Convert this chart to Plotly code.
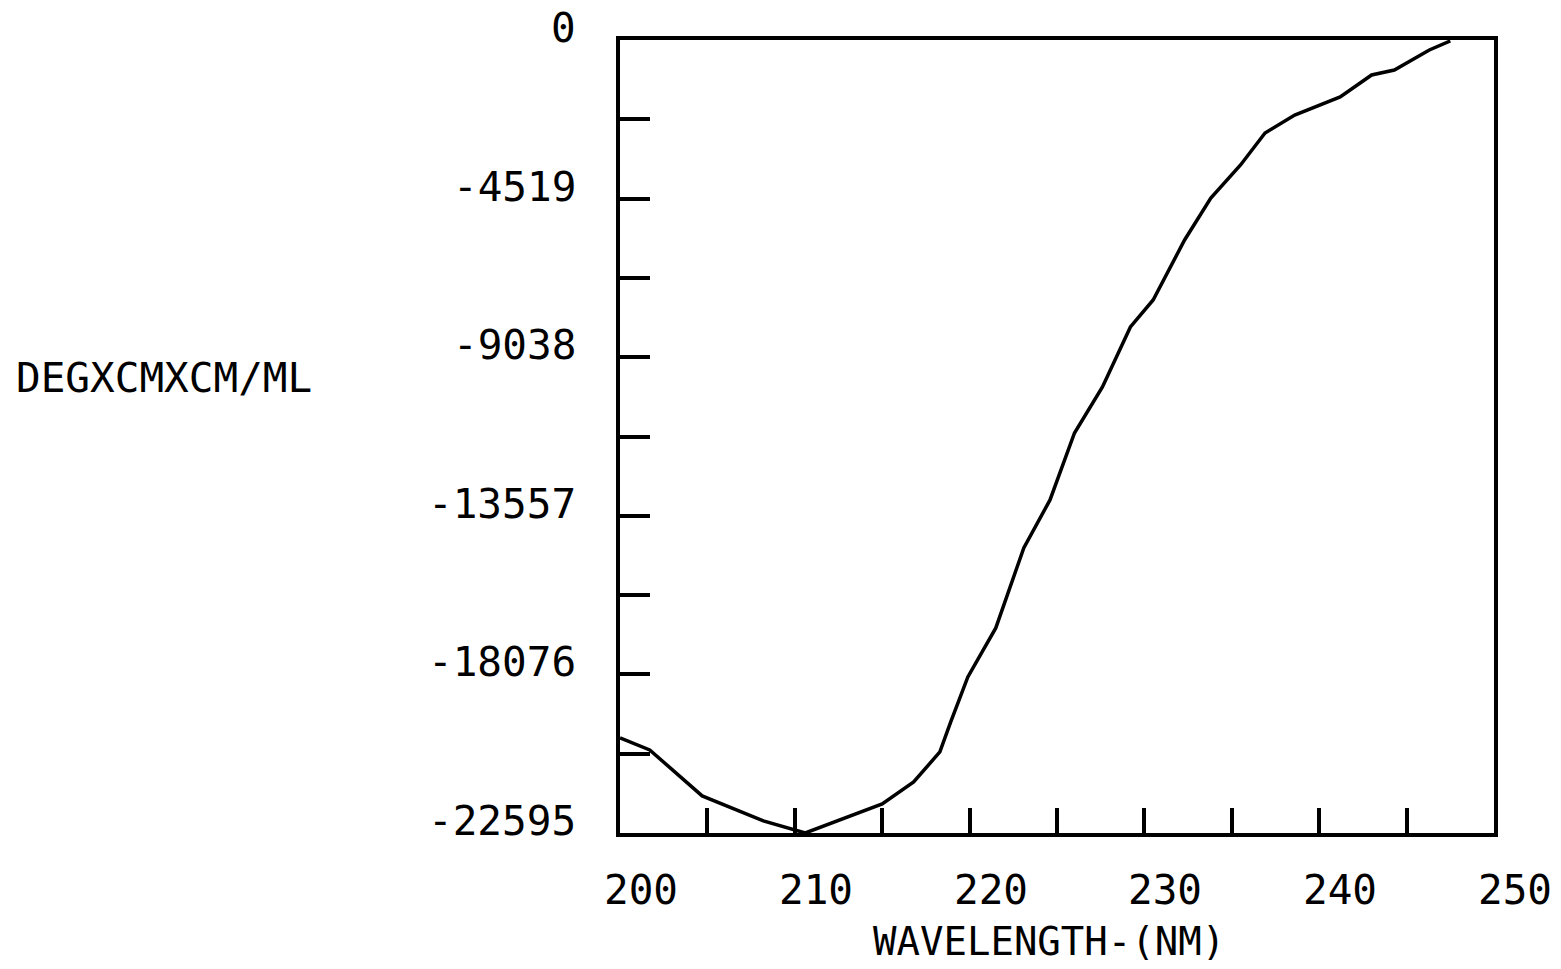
import plotly.graph_objects as go

wavelength = [200.0, 201.7, 204.7, 208.2, 210.6, 215.0, 216.8, 218.3, 218.9, 219.9, 221.5,
              223.1, 224.6, 226.0, 227.6, 229.2, 230.5, 232.3, 233.8, 235.5, 236.9, 238.6,
              241.2, 243.0, 244.3, 246.3, 247.5]
ellipticity = [-19886, -20228, -21538, -22251, -22595, -21766, -21140, -20285, -19459, -18148,
               -16752, -14473, -13105, -11197, -9886, -8177, -7407, -5698, -4501, -3561, -2650,
               -2137, -1624, -997, -855, -285, -28]

y_tick_labels = [0, -4519, -9038, -13557, -18076, -22595]
y_minor_step = 2259.5
x_ticks = [200, 205, 210, 215, 220, 225, 230, 235, 240, 245, 250]
x_tick_labels = [200, 210, 220, 230, 240, 250]

FONT = "DejaVu Sans Mono"
FS = 41

fig = go.Figure()
fig.add_trace(go.Scatter(x=wavelength, y=ellipticity, mode="lines",
                         line=dict(color="black", width=3.5), showlegend=False,
                         cliponaxis=True))

y_ticks = [-y_minor_step * i for i in range(11)]

fig.update_xaxes(range=[200, 250], tickvals=x_ticks, ticks="inside", ticklen=25,
                 tickwidth=3.5, tickcolor="black", showticklabels=False, showgrid=False,
                 zeroline=False, showline=True, linecolor="black", linewidth=3.5, mirror=True)
fig.update_yaxes(range=[-22595, 0], tickvals=y_ticks, ticks="inside", ticklen=30,
                 tickwidth=3.5, tickcolor="black", showticklabels=False, showgrid=False,
                 zeroline=False, showline=True, linecolor="black", linewidth=3.5, mirror=True)

annotations = []
for v in y_tick_labels:
    annotations.append(dict(x=0, xref="paper", y=v, yref="y", text=str(v), showarrow=False,
                            xanchor="right", yanchor="middle", xshift=-42, yshift=12,
                            font=dict(family=FONT, size=FS, color="black")))
for v in x_tick_labels:
    annotations.append(dict(x=v, xref="x", y=0, yref="paper", text=str(v), showarrow=False,
                            xanchor="center", yanchor="middle", xshift=21, yshift=-57,
                            font=dict(family=FONT, size=FS, color="black")))
annotations.append(dict(x=0.491, xref="paper", y=0, yref="paper", text="WAVELENGTH-(NM)",
                        showarrow=False, xanchor="center", yanchor="bottom", yshift=-133,
                        font=dict(family=FONT, size=39, color="black")))
annotations.append(dict(x=0, xref="paper", y=-9636, yref="y", text="DEGXCMXCM/ML",
                        showarrow=False, xanchor="left", yanchor="middle", xshift=-606,
                        font=dict(family=FONT, size=FS, color="black")))

fig.update_layout(width=1561, height=969, margin=dict(l=620, r=67, t=40, b=136),
                  plot_bgcolor="white", paper_bgcolor="white", annotations=annotations)

fig.write_html("out.html")
